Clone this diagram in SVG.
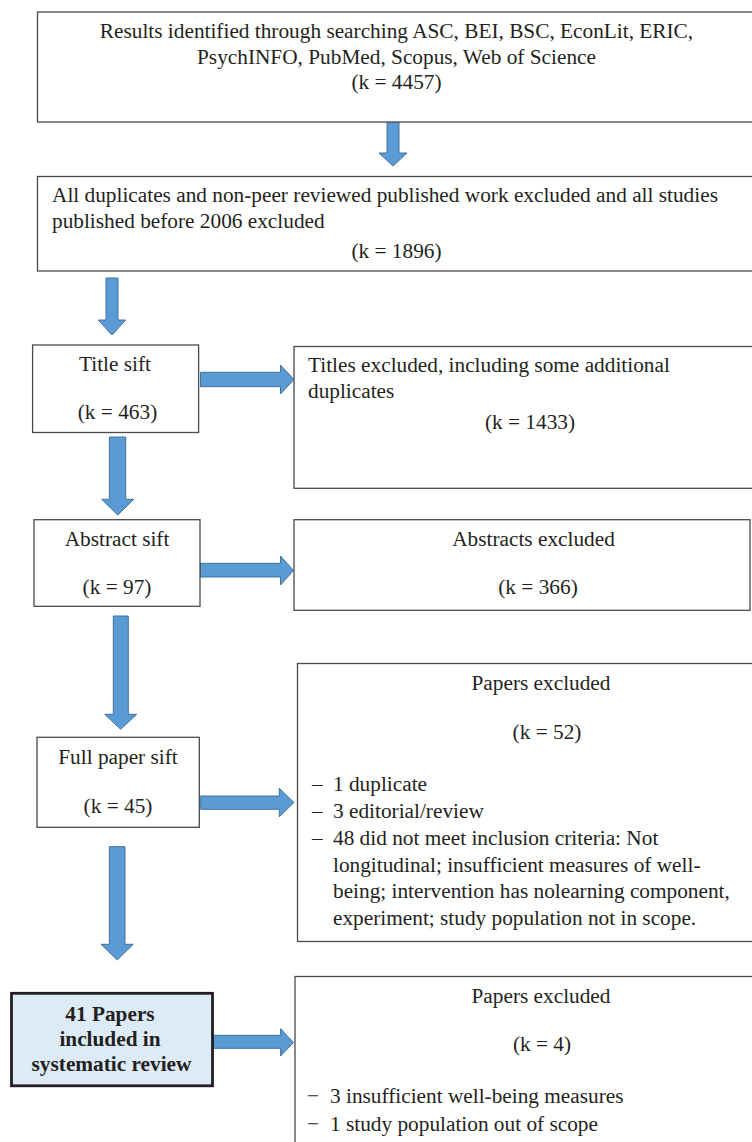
<svg xmlns="http://www.w3.org/2000/svg" width="752" height="1142" viewBox="0 0 752 1142">
<style>
.box{fill:#ffffff;stroke:#4a4a4a;stroke-width:1.3}
.bold{fill:#ddebf7;stroke:#231f20;stroke-width:2.8}
.arr{fill:#5b9bd5;stroke:#41719c;stroke-width:1}
text{font-family:"Liberation Serif","Times New Roman",serif;font-size:21.3px;fill:#231f20}
.c{text-anchor:middle}
.b{font-weight:bold}
</style>
<rect width="752" height="1142" fill="#ffffff"/>
<g id="connectors">
<polygon class="arr" points="387,122 399,122 399,153 407,153 393,166 379,153 387,153"/>
<polygon class="arr" points="106,278 118,278 118,320 125.7,320 112,335 98.3,320 106,320"/>
<polygon class="arr" points="200.5,372.3 280.5,372.3 280.5,365 294,379.5 280.5,394 280.5,386.7 200.5,386.7"/>
<polygon class="arr" points="109.4,437 125.7,437 125.7,499.3 133.8,499.3 117.7,515 101.7,499.3 109.4,499.3"/>
<polygon class="arr" points="200.5,563.3 280.5,563.3 280.5,556 293.5,570.5 280.5,585 280.5,577 200.5,577"/>
<polygon class="arr" points="113.3,616 128.3,616 128.3,714.3 136.7,714.3 120.7,729.3 104.7,714.3 113.3,714.3"/>
<polygon class="arr" points="200.7,796 279.3,796 279.3,788.3 294,802.5 279.3,816.7 279.3,809.3 200.7,809.3"/>
<polygon class="arr" points="109.3,846.7 125,846.7 125,944.3 133.3,944.3 117.2,960 101,944.3 109.3,944.3"/>
<polygon class="arr" points="213.4,1035.3 280.6,1035.3 280.6,1028.7 293.5,1042.5 280.6,1056 280.6,1048.3 213.4,1048.3"/>
</g>
<g id="search">
<rect class="box" x="37.5" y="12" width="730" height="110"/>
<text class="c" x="396.5" y="38">Results identified through searching ASC, BEI, BSC, EconLit, ERIC,</text>
<text class="c" x="396.5" y="63.5">PsychINFO, PubMed, Scopus, Web of Science</text>
<text class="c" x="396.5" y="89">(k = 4457)</text>
</g>
<g id="duplicates">
<rect class="box" x="37.5" y="176.5" width="730" height="94.5"/>
<text x="52" y="202">All duplicates and non-peer reviewed published work excluded and all studies</text>
<text x="52" y="228">published before 2006 excluded</text>
<text class="c" x="396.5" y="258">(k = 1896)</text>
</g>
<g id="title-sift">
<rect class="box" x="32.6" y="345" width="166" height="87.5"/>
<text class="c" x="115" y="371">Title sift</text>
<text class="c" x="117.5" y="419">(k = 463)</text>
</g>
<g id="titles-excluded">
<rect class="box" x="294" y="346.5" width="470" height="141.8"/>
<text x="308" y="372">Titles excluded, including some additional</text>
<text x="308" y="398">duplicates</text>
<text class="c" x="530" y="429">(k = 1433)</text>
</g>
<g id="abstract-sift">
<rect class="box" x="34" y="519.7" width="166" height="86.6"/>
<text class="c" x="117" y="546">Abstract sift</text>
<text class="c" x="117" y="594">(k = 97)</text>
</g>
<g id="abstracts-excluded">
<rect class="box" x="294" y="519.7" width="456" height="90.6"/>
<text class="c" x="533.5" y="546">Abstracts excluded</text>
<text class="c" x="538" y="594">(k = 366)</text>
</g>
<g id="full-paper-sift">
<rect class="box" x="37" y="737.3" width="162.3" height="90"/>
<text class="c" x="118" y="764">Full paper sift</text>
<text class="c" x="118" y="813">(k = 45)</text>
</g>
<g id="papers-excluded-52">
<rect class="box" x="297.5" y="663.5" width="470" height="278"/>
<text class="c" x="541" y="690">Papers excluded</text>
<text class="c" x="547" y="739">(k = 52)</text>
<text x="312" y="791">–</text>
<text x="333" y="791">1 duplicate</text>
<text x="312" y="818">–</text>
<text x="333" y="818">3 editorial/review</text>
<text x="312" y="845">–</text>
<text x="333" y="845">48 did not meet inclusion criteria: Not</text>
<text x="333" y="872">longitudinal; insufficient measures of well-</text>
<text x="333" y="898">being; intervention has nolearning component,</text>
<text x="333" y="925">experiment; study population not in scope.</text>
</g>
<g id="included">
<rect class="bold" x="11.5" y="993.3" width="201" height="92.5"/>
<text class="c b" x="110" y="1020.5">41 Papers</text>
<text class="c b" x="110" y="1046">included in</text>
<text class="c b" x="111.5" y="1070.7">systematic review</text>
</g>
<g id="papers-excluded-4">
<rect class="box" x="295" y="976.5" width="470" height="180"/>
<text class="c" x="541" y="1002.5">Papers excluded</text>
<text class="c" x="542" y="1051">(k = 4)</text>
<text x="307" y="1102.5">−</text>
<text x="330" y="1102.5">3 insufficient well-being measures</text>
<text x="307" y="1130.5">−</text>
<text x="330" y="1130.5">1 study population out of scope</text>
</g>
</svg>
